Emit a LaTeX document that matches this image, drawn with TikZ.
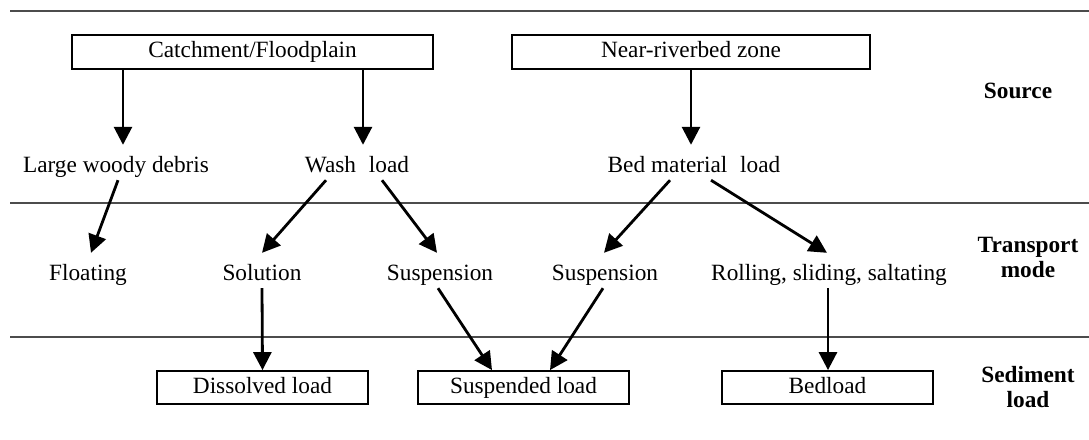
\documentclass[tikz,border=0pt]{standalone}
\usepackage{fontspec}
\setmainfont{Liberation Serif}
\usetikzlibrary{arrows.meta}

\begin{document}
\begin{tikzpicture}[
    x=1pt, y=-1pt,
    font=\fontsize{23.3}{25}\selectfont,
    box/.style={draw, line width=1.8pt, minimum height=34pt, inner sep=0pt, text height=16pt, text depth=5pt},
    txt/.style={anchor=base, inner xsep=0pt, inner ysep=3pt, text height=24pt, text depth=5pt},
    conn/.style={-{Triangle[length=18pt,width=18pt]}, line width=2.8pt},
    rule/.style={draw=black!70, line width=1.3pt},
    lab/.style={font=\fontsize{23.3}{25}\selectfont\bfseries, align=center}
]
\useasboundingbox (0,0) rectangle (1089,439);

% rules between the rows
\draw[rule] (10,11) -- (1089,11);
\draw[rule] (10,203) -- (1089,203);
\draw[rule] (10,337) -- (1089,337);

% source
\node[box, minimum width=361pt] (catch) at (252.5,52) {Catchment/Floodplain};
\node[box, minimum width=358pt] (near) at (691,52) {Near-riverbed zone};

\node[txt] (lwd) at (116,172) {Large woody debris};
\node[txt] (wash) at (357,172) {Wash\hspace{0.55em}load};
\node[txt] (bml) at (694,172) {Bed material\hspace{0.55em}load};

% transport mode
\node[txt] (float) at (88,280) {Floating};
\node[txt] (sol) at (262,280) {Solution};
\node[txt] (susp1) at (440,280) {Suspension};
\node[txt] (susp2) at (605,280) {Suspension};
\node[txt] (roll) at (829,280) {Rolling, sliding, saltating};

% sediment load
\node[box, minimum width=211pt, minimum height=33pt] (diss) at (262.5,387.5) {Dissolved load};
\node[box, minimum width=211pt, minimum height=33pt] (susp) at (523.5,387.5) {Suspended load};
\node[box, minimum width=211pt, minimum height=33pt] (bed) at (827.5,387.5) {Bedload};

\node[lab, anchor=base] (src) at (1018,98) {Source};
\node[lab] (trans) at (1028,257.5) {Transport\\mode};
\node[lab] (sed) at (1028,387.5) {Sediment\\load};

\draw[conn] ([xshift=-129.5pt]catch.south) -- ([xshift=7pt]lwd.north);
\draw[conn] ([xshift=110.5pt]catch.south) -- ([xshift=6pt]wash.north);
\draw[conn] (near.south) -- ([xshift=-3pt]bml.north);

\draw[conn] ([xshift=2pt]lwd.south) -- ([xshift=3pt]float.north);
\draw[conn] ([xshift=-31pt]wash.south) -- (sol.north);
\draw[conn] ([xshift=25pt]wash.south) -- ([xshift=-3pt]susp1.north);
\draw[conn] ([xshift=-24pt]bml.south) -- ([xshift=-1pt]susp2.north);
\draw[conn] ([xshift=17pt]bml.south) -- ([xshift=-2pt]roll.north);

\draw[conn] (sol.south) -- (diss.north);
\draw[conn] ([xshift=-2pt]susp1.south) -- ([xshift=-31.5pt]susp.north);
\draw[conn] ([xshift=-2pt]susp2.south) -- ([xshift=26.5pt]susp.north);
\draw[conn] ([xshift=-1pt]roll.south) -- ([xshift=0.5pt]bed.north);
\end{tikzpicture}
\end{document}
